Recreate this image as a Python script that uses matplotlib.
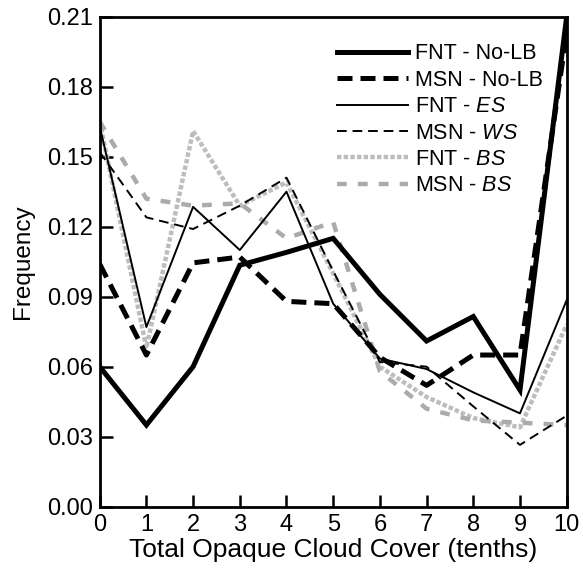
import matplotlib
matplotlib.use("Agg")
import matplotlib.pyplot as plt
import numpy as np

plt.rcParams['font.family'] = ['Liberation Sans', 'DejaVu Sans']
plt.rcParams['mathtext.fontset'] = 'custom'
plt.rcParams['mathtext.rm'] = 'Liberation Sans'
plt.rcParams['mathtext.it'] = 'Liberation Sans:italic'

cloud_cover = [0, 1, 2, 3, 4, 5, 6, 7, 8, 9, 10]
fnt_nolb = [0.060, 0.035, 0.060, 0.1035, 0.109, 0.115, 0.091, 0.071, 0.0815, 0.050, 0.210]
msn_nolb = [0.104, 0.065, 0.1045, 0.107, 0.088, 0.087, 0.064, 0.052, 0.065, 0.065, 0.203]
fnt_es = [0.163, 0.077, 0.1285, 0.110, 0.135, 0.087, 0.0635, 0.059, 0.049, 0.040, 0.0885]
msn_ws = [0.152, 0.124, 0.119, 0.129, 0.141, 0.101, 0.062, 0.060, 0.043, 0.0265, 0.039]
fnt_bs = [0.165, 0.068, 0.161, 0.129, 0.139, 0.100, 0.060, 0.047, 0.038, 0.034, 0.078]
msn_bs = [0.165, 0.132, 0.129, 0.130, 0.115, 0.122, 0.058, 0.042, 0.037, 0.036, 0.035]

labels = ['FNT - No-LB', 'MSN - No-LB', r'FNT - $\it{ES}$', r'MSN - $\it{WS}$',
          r'FNT - $\it{BS}$', r'MSN - $\it{BS}$']
yticks = [0.00, 0.03, 0.06, 0.09, 0.12, 0.15, 0.18, 0.21]

fig = plt.figure(figsize=(5.83, 5.71), dpi=100)
ax = fig.add_axes([0.171, 0.1126, 0.801, 0.8582])

ax.plot(cloud_cover, fnt_bs, color='#bdbdbd', lw=3.2, linestyle=(0, (1.0, 0.5)), label=labels[4], zorder=2)
ax.plot(cloud_cover, msn_bs, color='#ababab', lw=3.2, linestyle=(0, (2.2, 2.5)), label=labels[5], zorder=2)
ax.plot(cloud_cover, fnt_nolb, color='black', lw=3.6, solid_joinstyle='miter', label=labels[0], zorder=4)
ax.plot(cloud_cover, msn_nolb, color='black', lw=3.6, linestyle=(0, (3.0, 1.6)), label=labels[1], zorder=4)
ax.plot(cloud_cover, fnt_es, color='black', lw=1.4, label=labels[2], zorder=3)
ax.plot(cloud_cover, msn_ws, color='black', lw=1.4, linestyle=(0, (5, 3)), label=labels[3], zorder=3)

ax.set_xlim(0, 10)
ax.set_ylim(0, 0.21)
ax.set_xticks(cloud_cover)
ax.set_yticks(yticks)
ax.set_yticklabels([f"{v:.2f}" for v in yticks])
ax.tick_params(direction='in', length=9, width=1.8, labelsize=17, pad=5)
for s in ax.spines.values():
    s.set_linewidth(2.0)

ax.set_xlabel('Total Opaque Cloud Cover (tenths)', fontsize=19, labelpad=2)
ax.set_ylabel('Frequency', fontsize=17.5, labelpad=9)

handles, labs = ax.get_legend_handles_labels()
order = [2, 3, 4, 5, 0, 1]
leg = ax.legend([handles[i] for i in order], [labs[i] for i in order],
                loc='upper right', frameon=False, fontsize=15.5, handlelength=3.3,
                handletextpad=0.3, labelspacing=0.25, borderaxespad=0.5,
                bbox_to_anchor=(0.99, 0.985))

fig.savefig('out.png', dpi=100)
